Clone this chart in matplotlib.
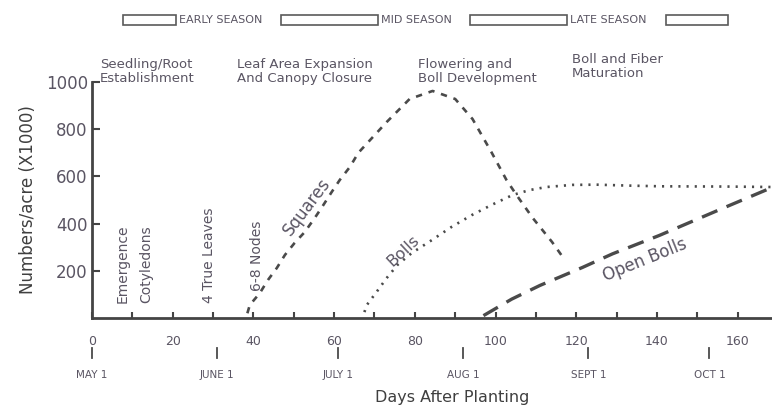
import numpy as np
import matplotlib
matplotlib.use("Agg")
import matplotlib.pyplot as plt
from matplotlib.patches import Rectangle
from matplotlib.transforms import blended_transform_factory


# values (days after planting, numbers/acre x1000)
squares_days = [38.5, 39.1, 41.6, 43.6, 45.8, 47.8, 50.2, 52.7, 55.2, 57, 59.4, 61.4, 63.9,
                66, 73, 78.7, 84.4, 90, 94.3, 99, 102.7, 105.2, 109.2, 114, 117]
squares = [20, 55, 106, 161, 212, 267, 318, 364, 424, 470, 534, 585, 640,
           700, 830, 928, 962, 928, 843, 702, 585, 521, 424, 322, 250]

bolls_days = [67.5, 68.1, 70.5, 73, 75.7, 79.2, 84.2, 89.1, 94.1, 99, 104.2, 108.4,
              112.6, 119, 125, 133, 141, 157, 168.5]
bolls = [25, 55, 110, 169, 225, 275, 330, 386, 436, 479, 521, 542,
         555, 564, 565, 561, 558, 557, 555]

open_days = [97, 104, 111, 121.5, 129, 140.6, 157, 168.5]
open_bolls = [10, 80, 138, 214, 272, 350, 470, 553]

date_days = [0, 31, 61, 92, 123, 153]
date_labels = ["MAY 1", "JUNE 1", "JULY 1", "AUG 1", "SEPT 1", "OCT 1"]

event_days = [7.5, 13.5, 29, 41]
event_labels = ["Emergence", "Cotyledons", "4 True Leaves", "6-8 Nodes"]

stage_days = [2, 36, 80.7, 119]
stage_labels = ["Seedling/Root\nEstablishment", "Leaf Area Expansion\nAnd Canopy Closure",
                "Flowering and\nBoll Development", "Boll and Fiber\nMaturation"]

season_labels = ["EARLY SEASON", "MID SEASON", "LATE SEASON"]

line_color = "#4a4a4a"
text_color = "#5a5563"

fig = plt.figure(figsize=(7.72, 4.09), dpi=100)
ax = fig.add_axes([92 / 772, 91 / 409, 680 / 772, 236 / 409])

ax.plot(squares_days, squares, color=line_color, lw=1.9, dashes=(2.4, 2.6))
ax.plot(bolls_days, bolls, color=line_color, lw=1.9, dashes=(0.8, 2.3))
ax.plot(open_days, open_bolls, color=line_color, lw=2.4, dashes=(5, 3))

ax.text(53.2, 470, "Squares", rotation=53, ha="center", va="center",
        fontsize=12, color=text_color)
ax.text(77, 285, "Bolls", rotation=43, ha="center", va="center",
        fontsize=11.5, color=text_color)
ax.text(137, 246, "Open Bolls", rotation=22, ha="center", va="center",
        fontsize=12, color=text_color)

ax.set_xlim(0, 168.5)
ax.set_ylim(0, 1000)

for side in ["top", "right"]:
    ax.spines[side].set_visible(False)
for side in ["left", "bottom"]:
    ax.spines[side].set_linewidth(2)
    ax.spines[side].set_color("#444444")

ax.set_xticks(np.arange(0, 161, 20))
ax.set_xticks(np.arange(10, 161, 20), minor=True)
ax.set_yticks([200, 400, 600, 800, 1000])
ax.tick_params(axis="x", which="both", direction="in", length=4, width=1.5,
               color="#444444", pad=12, labelsize=9, labelcolor=text_color)
ax.tick_params(axis="y", direction="in", length=6, width=1.5, color="#444444",
               pad=3, labelsize=12, labelcolor=text_color)

ax.set_ylabel("Numbers/acre (X1000)", fontsize=12, color="#3f3f3f", labelpad=6)

# calendar dates under the day axis
trans = blended_transform_factory(ax.transData, ax.transAxes)
for d, lab in zip(date_days, date_labels):
    ax.plot([d, d], [-0.125, -0.17], color=line_color, lw=1.3,
            transform=trans, clip_on=False)
    ax.text(d, -0.24, lab, transform=trans, ha="center", va="center",
            fontsize=7.5, color=text_color)

fig.text(0.586, 0.027, "Days After Planting", ha="center", va="center",
         fontsize=11.5, color="#3f3f3f")

# growth events, written upright along the bottom
for d, lab in zip(event_days, event_labels):
    ax.text(d, 62 if lab != "6-8 Nodes" else 115, lab, rotation=90,
            ha="center", va="bottom", fontsize=10, color=text_color)

for d, lab in zip(stage_days, stage_labels):
    y = 1064 if lab.startswith("Boll and") else 1045
    ax.text(d, y, lab, ha="left", va="center", fontsize=9.5,
            color=text_color, linespacing=1.1, clip_on=False)

# season boxes along the top
box_spans = [(123, 176), (281, 378), (470, 567), (666, 728)]
for x0, x1 in box_spans:
    fig.add_artist(Rectangle((x0 / 772, 1 - 25 / 409), (x1 - x0) / 772, 10 / 409,
                             transform=fig.transFigure, fill=False,
                             edgecolor="#5a5a5a", lw=1.2))
for (x0, x1), lab in zip(box_spans[:-1], season_labels):
    fig.text((x1 + 3) / 772, 1 - 20 / 409, lab, ha="left", va="center",
             fontsize=8, color=text_color)

fig.savefig("out.png", dpi=100)
